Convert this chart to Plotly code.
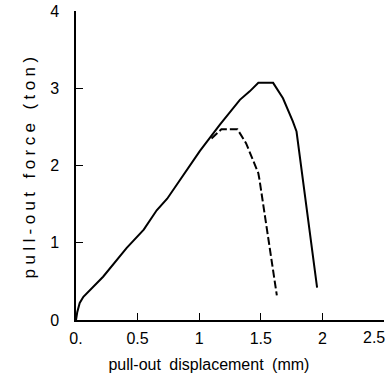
import plotly.graph_objects as go

# Solid curve (first specimen)
solid_x = [0.0, 0.01, 0.03, 0.06, 0.22, 0.41, 0.55, 0.655, 0.74, 0.817, 0.95, 1.006, 1.168, 1.33, 1.41, 1.48, 1.60, 1.68, 1.76, 1.79, 1.957]
solid_y = [0.0, 0.10, 0.22, 0.30, 0.56, 0.93, 1.17, 1.42, 1.57, 1.75, 2.07, 2.19, 2.53, 2.85, 2.96, 3.07, 3.07, 2.87, 2.57, 2.44, 0.42]

# Dashed curve (second specimen)
dash_x = [1.10, 1.15, 1.18, 1.31, 1.38, 1.48, 1.49, 1.63]
dash_y = [2.35, 2.43, 2.47, 2.47, 2.29, 1.90, 1.81, 0.32]

x_ticks = [0, 0.5, 1, 1.5, 2, 2.5]
x_ticklabels = ["0.", "0.5", "1", "1.5", "2", "2.5"]
y_ticks = [0, 1, 2, 3, 4]
y_ticklabels = ["0", "1", "2", "3", "4"]

font_family = "Liberation Sans, Arial, sans-serif"

fig = go.Figure()
fig.add_trace(go.Scatter(x=solid_x, y=solid_y, mode="lines",
                         line=dict(color="black", width=2), showlegend=False))
fig.add_trace(go.Scatter(x=dash_x, y=dash_y, mode="lines",
                         line=dict(color="black", width=2, dash="8px,3px"), showlegend=False))

# last x tick label is right-aligned to its tick (kept inside the figure)
axis_ticktext = x_ticklabels[:-1] + [""]
fig.add_annotation(x=x_ticks[-1], xref="x", y=0, yref="y",
                   text=x_ticklabels[-1], showarrow=False,
                   xanchor="right", yanchor="top", xshift=2, yshift=-8,
                   borderpad=0, font=dict(size=16, color="black"))

fig.update_layout(
    width=390, height=376,
    margin=dict(l=76, r=6, t=11, b=56),
    plot_bgcolor="white", paper_bgcolor="white",
    font=dict(family=font_family, size=16, color="black"),
    xaxis=dict(
        range=[0, 2.5], tickvals=x_ticks, ticktext=axis_ticktext,
        showline=True, linecolor="black", linewidth=1.5,
        ticks="inside", ticklen=7, tickcolor="black", tickwidth=1.2,
        showgrid=False, zeroline=False, automargin=False,
        title=dict(text='<span style="word-spacing:4px">pull-out displacement (mm)'
                        '\u00a0\u00a0\u00a0\u00a0\u00a0\u200b</span>',
                   font=dict(size=16), standoff=13),
        tickfont=dict(size=16),
        ticklabelstandoff=3,
    ),
    yaxis=dict(
        range=[0, 4], tickvals=y_ticks, ticktext=y_ticklabels,
        showline=True, linecolor="black", linewidth=1.5,
        ticks="inside", ticklen=7, tickcolor="black", tickwidth=1.2,
        showgrid=False, zeroline=False, automargin=False,
        title=dict(text='<span style="letter-spacing:4.4px">pull-out force (ton)</span>',
                   font=dict(size=17), standoff=10),
        tickfont=dict(size=16),
        ticklabelstandoff=12,
        ticklabeloverflow="allow",
    ),
)

fig.write_html("out.html")
